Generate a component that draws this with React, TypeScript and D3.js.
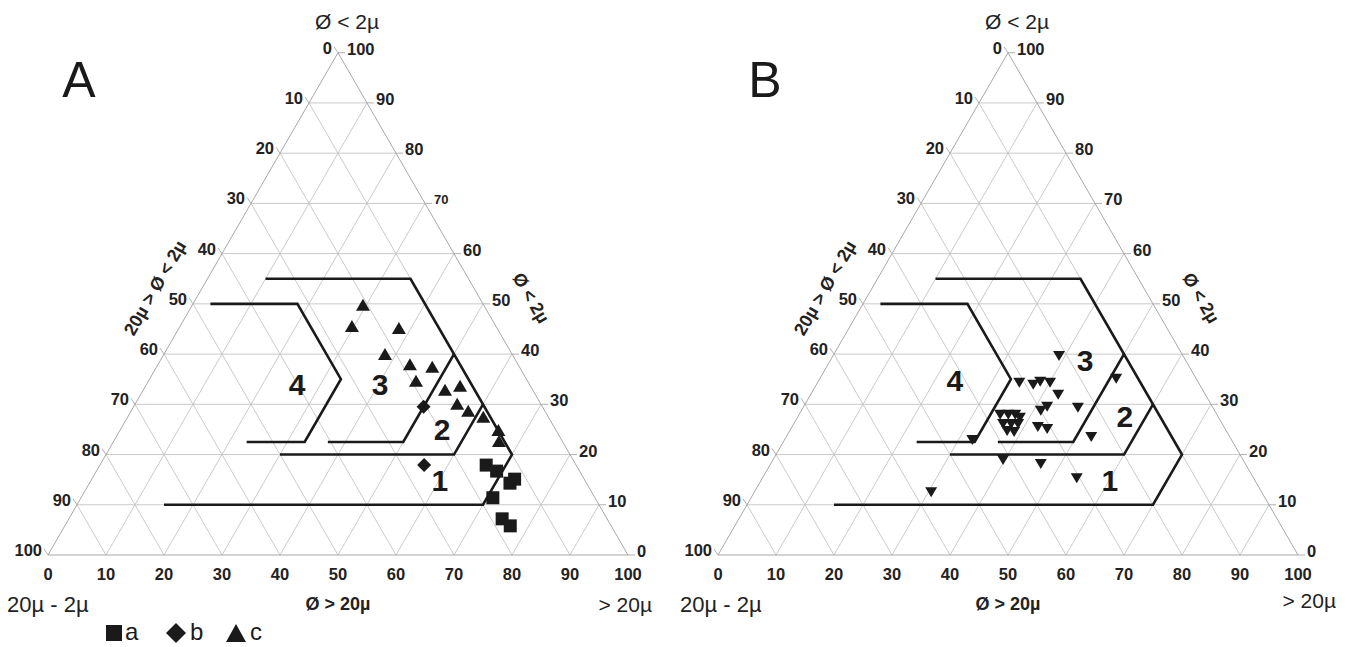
import React from 'react';
import * as d3 from 'd3';

// ---- axis ticks ----
const TICKS = [0, 10, 20, 30, 40, 50, 60, 70, 80, 90, 100];
const GRID = [10, 20, 30, 40, 50, 60, 70, 80, 90];

// ---- zone boundaries (sand %, clay %) ----
const zone1Sand = [15, 70, 70, 35, 10];
const zone1Clay = [10, 10, 20, 55, 55];
const zone2Sand = [30, 60, 60];
const zone2Clay = [20, 20, 30];
const zone3Sand = [37, 50, 50];
const zone3Clay = [22.5, 22.5, 40];
const zone4Sand = [3, 18, 33, 33, 23];
const zone4Clay = [50, 50, 35, 22.5, 22.5];

const zoneNames = ['1', '2', '3', '4'];
const zoneLabelSandA = [60.1, 55.5, 40.3, 26];
const zoneLabelClayA = [14.9, 24.9, 33.9, 33.9];
const zoneLabelSandB = [60.1, 56.4, 43.9, 23.5];
const zoneLabelClayB = [14.9, 27.5, 38.8, 34.7];

// ---- panel A data ----
const aSand = [66.6, 69.0, 72.5, 72.9, 71.0, 74.7, 76.8];
const aClay = [17.9, 16.7, 14.3, 15.1, 11.4, 7.2, 5.8];
const bSand = [50.0, 55.9];
const bClay = [29.5, 17.9];
const cSand = [29.4, 29.6, 37.9, 38.1, 43.4, 47.5, 46.1, 52.0, 54.2, 55.5, 58.1, 61.3, 65.2, 66.4];
const cClay = [49.8, 45.6, 45.2, 40.0, 38.0, 37.5, 34.7, 32.9, 33.7, 30.1, 28.7, 27.5, 24.9, 22.7];

// ---- panel B data ----
const pbSand = [39.0, 34.8, 37.4, 38.3, 40.1, 42.7, 51.1, 47.4, 41.3, 42.0, 42.4, 44.2, 52.6, 32.4, 39.7, 46.6, 54.2, 30.5,
  34.7, 36.1, 37.3, 38.4, 36.1, 37.5, 38.7, 37.5, 38.8];
const pbClay = [39.6, 34.3, 33.9, 34.5, 34.3, 31.9, 35.1, 29.3, 28.7, 29.5, 25.5, 25.1, 23.5, 22.9, 18.9, 18.1, 15.3, 12.5,
  27.9, 27.9, 27.9, 27.3, 26.1, 26.1, 26.1, 24.7, 24.5];

const FONT = 'Liberation Sans, Arial, Helvetica, sans-serif';
const SIDE = 580;
const HEIGHT = SIDE * Math.sqrt(3) / 2;
const BASE = 555;

const SQUARE = 'M-6.5,-6.5H6.5V6.5H-6.5Z';
const DIAMOND = 'M0,-7L7,0L0,7L-7,0Z';
const UP = 'M0,-6L7,6L-7,6Z';
const DOWN = 'M-6,-5L6,-5L0,5Z';

type Series = { sand: number[]; clay: number[]; path: string };

function Ternary({ left, series, labelSand, labelClay, small70 }: {
  left: number; series: Series[]; labelSand: number[]; labelClay: number[]; small70: boolean;
}) {
  const sx = d3.scaleLinear().domain([0, 100]).range([0, SIDE]);
  const sy = d3.scaleLinear().domain([0, 100]).range([BASE, BASE - HEIGHT]);
  const px = (s: number, c: number) => left + sx(s) + sx(c) / 2;
  const py = (c: number) => sy(c);
  const line = d3.line<[number, number]>().x(d => px(d[0], d[1])).y(d => py(d[1]));

  const grid: [number, number][][] = [];
  GRID.forEach(k => {
    grid.push([[0, k], [100 - k, k]]);
    grid.push([[k, 0], [k, 100 - k]]);
    grid.push([[100 - k, 0], [0, 100 - k]]);
  });
  const zones = [
    [zone1Sand, zone1Clay], [zone2Sand, zone2Clay], [zone3Sand, zone3Clay], [zone4Sand, zone4Clay],
  ].map(([s, c]) => s.map((v, i) => [v, c[i]] as [number, number]));

  return (
    <g>
      {grid.map((g, i) => (
        <path key={'g' + i} d={line(g) || ''} stroke="#c4c4c4" strokeWidth={0.9} fill="none" />
      ))}
      <path d={(line([[0, 0], [100, 0], [0, 100]]) || '') + 'Z'} stroke="#a8a8a8" strokeWidth={1} fill="none" />
      {/* ticks */}
      {TICKS.map(k => {
        const lx = px(0, k), ly = py(k);
        const rx = px(100 - k, k), ry = py(k);
        return (
          <g key={'t' + k}>
            <line x1={lx} y1={ly} x2={lx - 4} y2={ly - 6} stroke="#a8a8a8" strokeWidth={0.9} />
            <line x1={rx} y1={ry} x2={rx + 7} y2={ry} stroke="#a8a8a8" strokeWidth={0.9} />
          </g>
        );
      })}
      {/* left labels */}
      {TICKS.map(k => (
        <text key={'l' + k} x={px(0, k) - 6} y={py(k) - 5} textAnchor="end" dominantBaseline="central"
          fontFamily={FONT} fontWeight="bold" fontSize={16.5} fill="#222">{100 - k}</text>
      ))}
      {TICKS.map(k => (
        <text key={'r' + k} x={px(100 - k, k) + 9} y={py(k) - 4} textAnchor="start" dominantBaseline="central"
          fontFamily={FONT} fontWeight="bold" fontSize={small70 && k === 70 ? 13 : 16.5} fill="#222">{k}</text>
      ))}
      {TICKS.map(k => (
        <text key={'b' + k} x={px(k, 0)} y={BASE + 19} textAnchor="middle" dominantBaseline="central"
          fontFamily={FONT} fontWeight="bold" fontSize={16.5} fill="#222">{k}</text>
      ))}
      {/* zones */}
      {zones.map((z, i) => (
        <path key={'z' + i} d={line(z) || ''} stroke="#1a1a1a" strokeWidth={2.6} fill="none" strokeLinejoin="miter" />
      ))}
      {zoneNames.map((n, i) => (
        <text key={'zn' + i} x={px(labelSand[i], labelClay[i])} y={py(labelClay[i])} textAnchor="middle"
          dominantBaseline="central" fontFamily={FONT} fontWeight="bold" fontSize={30} fill="#1a1a1a">{n}</text>
      ))}
      {/* points */}
      {series.map((s, si) => s.sand.map((v, i) => (
        <path key={'p' + si + '-' + i} d={s.path}
          transform={`translate(${px(v, s.clay[i])},${py(s.clay[i])})`} fill="#1a1a1a" />
      )))}
      {/* axis titles */}
      <text x={left + SIDE / 2 + 9} y={21} textAnchor="middle" dominantBaseline="central"
        fontFamily={FONT} fontSize={21} fill="#222">Ø &lt; 2µ</text>
      <text x={left + SIDE / 2} y={604} textAnchor="middle" dominantBaseline="central"
        fontFamily={FONT} fontWeight="bold" fontSize={18} fill="#222">Ø &gt; 20µ</text>
      <text transform={`translate(${left + 107},288) rotate(-60)`} textAnchor="middle" dominantBaseline="central"
        fontFamily={FONT} fontWeight="bold" fontSize={18} fill="#222">20µ &gt; Ø &lt; 2µ</text>
      <text transform={`translate(${left + 483},298) rotate(60)`} textAnchor="middle" dominantBaseline="central"
        fontFamily={FONT} fontWeight="bold" fontSize={18} fill="#222">Ø &lt; 2µ</text>
    </g>
  );
}

export default function App() {
  return (
    <svg width={1346} height={647} style={{ position: 'absolute', left: 0, top: 0, background: '#fff' }}>
      <rect width={1346} height={647} fill="#fff" />
      <Ternary left={48} small70={true} labelSand={zoneLabelSandA} labelClay={zoneLabelClayA}
        series={[
          { sand: aSand, clay: aClay, path: SQUARE },
          { sand: bSand, clay: bClay, path: DIAMOND },
          { sand: cSand, clay: cClay, path: UP },
        ]} />
      <Ternary left={718} small70={false} labelSand={zoneLabelSandB} labelClay={zoneLabelClayB}
        series={[{ sand: pbSand, clay: pbClay, path: DOWN }]} />
      <text x={79} y={80} textAnchor="middle" dominantBaseline="central" fontFamily={FONT} fontSize={50} fill="#1a1a1a">A</text>
      <text x={765} y={80} textAnchor="middle" dominantBaseline="central" fontFamily={FONT} fontSize={50} fill="#1a1a1a">B</text>
      <text x={7} y={604} dominantBaseline="central" fontFamily={FONT} fontSize={22} fill="#222">20µ -  2µ</text>
      <text x={652} y={604} textAnchor="end" dominantBaseline="central" fontFamily={FONT} fontSize={21} fill="#222">&gt; 20µ</text>
      <text x={680} y={604} dominantBaseline="central" fontFamily={FONT} fontSize={22} fill="#222">20µ -  2µ</text>
      <text x={1336} y={600} textAnchor="end" dominantBaseline="central" fontFamily={FONT} fontSize={21} fill="#222">&gt; 20µ</text>
      {/* legend */}
      <g fill="#1a1a1a">
        <path d="M106,625H122V641H106Z" />
        <text x={125} y={631} dominantBaseline="central" fontFamily={FONT} fontSize={24}>a</text>
        <path d="M176,623L186,633L176,643L166,633Z" />
        <text x={190} y={631} dominantBaseline="central" fontFamily={FONT} fontSize={24}>b</text>
        <path d="M236,624L246,642L226,642Z" />
        <text x={250} y={631} dominantBaseline="central" fontFamily={FONT} fontSize={24}>c</text>
      </g>
    </svg>
  );
}
